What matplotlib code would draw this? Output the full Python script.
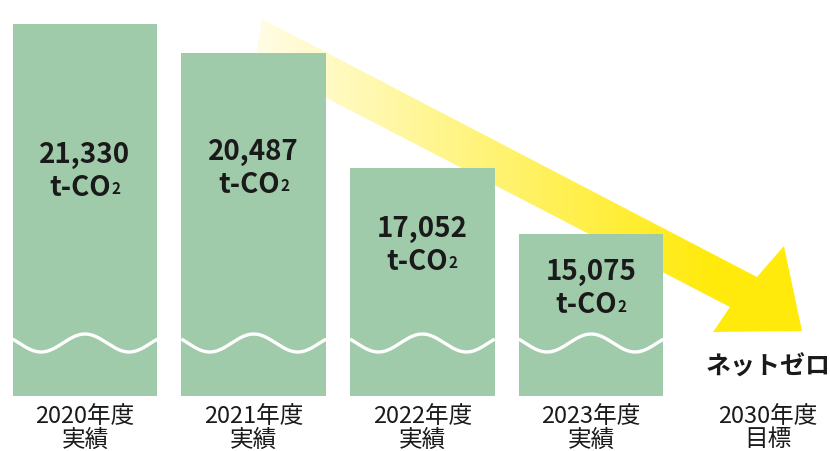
import numpy as np
import matplotlib
matplotlib.use('Agg')
import matplotlib.pyplot as plt
from matplotlib.patches import Polygon
from matplotlib import transforms

plt.rcParams['font.family'] = ['Noto Sans CJK JP', 'DejaVu Sans']

# データ
years = ['2020年度', '2021年度', '2022年度', '2023年度', '2030年度']
kinds = ['実績', '実績', '実績', '実績', '目標']
emissions = [21330, 20487, 17052, 15075]
unit = 't-CO'
target_label = 'ネットゼロ'

# 省略軸: 棒は0からではなくこの値から描く
axis_base = 10242
axis_top = 22089

green = '#a0cbab'
text_col = '#1a1a1a'
px = (axis_top - axis_base) / 397  # 1ピクセル分の値

fig = plt.figure(figsize=(8.3, 4.52), dpi=100)
ax = fig.add_axes([0, 55 / 452, 1, 397 / 452])

x = np.arange(len(years))
bar_w = 0.857

# 黄色のグラデーション矢印 (2021年度の上から2030年度へ)
arrow = [(1.049, 21492), (3.983, 13793), (4.143, 14718), (4.250, 12182),
         (3.723, 12152), (3.823, 12898), (1.008, 20238)]
poly = Polygon(arrow, closed=True, fill=False, lw=0)
ax.add_patch(poly)
n = 400
alpha = np.clip(np.linspace(0.10, 1.2, n), 0, 1)
grad = np.zeros((1, n, 4))
grad[..., 0] = 1.0
grad[..., 1] = 0.92
grad[..., 2] = 0.05
grad[0, :, 3] = alpha
im = ax.imshow(grad, extent=(1.0, 4.3, 12000, 21600), aspect='auto', zorder=1)
im.set_clip_path(poly)

# 棒
ax.bar(x[:4], [v - axis_base for v in emissions], bottom=axis_base,
       width=bar_w, color=green, zorder=3)

# 省略を示す波線
wave_mid = axis_base + 53 * px
amp = 9 * px
period = 88 / 168.7
for xi in x[:4]:
    xs = np.linspace(xi - bar_w / 2, xi + bar_w / 2, 200)
    ys = wave_mid + amp * np.cos(2 * np.pi * (xs - xi) / period)
    ax.plot(xs, ys, color='white', lw=2.4, zorder=4, solid_capstyle='butt')

# 棒の中の数値
label_mid = [16971, 17061, 14763, 13465]
gap = 33 * px
for xi, v, ym in zip(x[:4], emissions, label_mid):
    ax.text(xi, ym + gap / 2, f'{v:,}', ha='center', va='center',
            fontsize=20, fontweight='bold', color=text_col, zorder=5)
    tr = transforms.offset_copy(ax.transData, fig=fig, x=-5, y=0, units='dots')
    t = ax.text(xi, ym - gap / 2, unit, ha='center', va='center',
                fontsize=20, fontweight='bold', color=text_col, zorder=5,
                transform=tr)
    ax.annotate('2', xy=(1, 0), xycoords=t, xytext=(0.4, 3.5),
                textcoords='offset points', ha='left', va='bottom',
                fontsize=11, fontweight='bold', color=text_col, zorder=5)

# 目標
ax.text(4.05, axis_base + 29 * px, target_label, ha='center', va='center',
        fontsize=18, fontweight='bold', color=text_col)

# 年度ラベル
for xi, yr, k in zip(x, years, kinds):
    xx = xi + (0.05 if k == '目標' else 0)
    ax.text(xx, axis_base - 20 * px, yr, ha='center', va='center',
            fontsize=17, color=text_col)
    ax.text(xx, axis_base - 43 * px, k, ha='center', va='center',
            fontsize=17, color=text_col)

ax.set_xlim(-0.504, 4.416)
ax.set_ylim(axis_base, axis_top)
ax.axis('off')

fig.savefig('out.png', dpi=100)
